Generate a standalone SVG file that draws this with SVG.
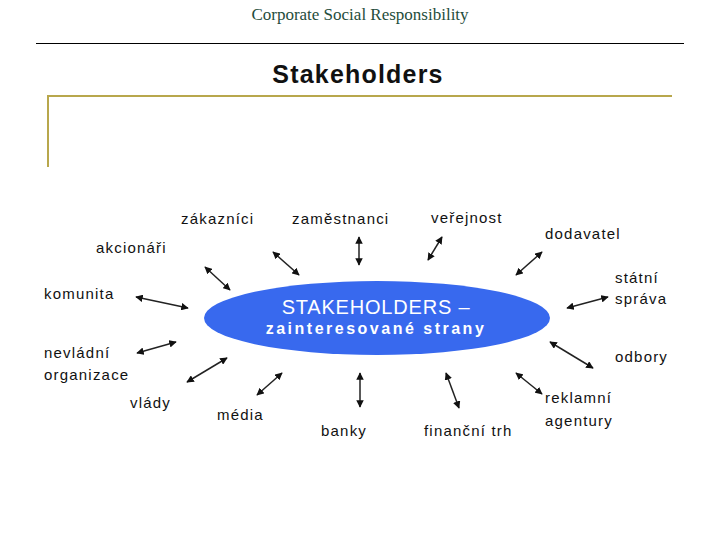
<svg xmlns="http://www.w3.org/2000/svg" width="720" height="540" viewBox="0 0 720 540">
<style>
.lbl{font-family:"Liberation Sans",Arial,sans-serif;font-size:15px;fill:#111;letter-spacing:1.2px}
.con line{stroke:#222;stroke-width:1.5;marker-start:url(#ah);marker-end:url(#ah)}
</style>
<defs>
<marker id="ah" viewBox="0 0 10 10" refX="9" refY="5" markerWidth="5" markerHeight="5" orient="auto-start-reverse" markerUnits="strokeWidth">
<path d="M0,0 L10,5 L0,10 z" fill="#111"/>
</marker>
</defs>
<rect width="720" height="540" fill="#fff"/>
<text x="360" y="20" text-anchor="middle" font-family="Liberation Serif,serif" font-size="17" fill="#1f4d3c">Corporate Social Responsibility</text>
<line x1="36" y1="43.5" x2="684" y2="43.5" stroke="#000" stroke-width="1"/>
<text x="358" y="83" text-anchor="middle" font-family="Liberation Sans,Arial,sans-serif" font-size="25" font-weight="bold" fill="#111" letter-spacing="1.2">Stakeholders</text>
<path d="M48,167 V96 H672" fill="none" stroke="#b8a74c" stroke-width="2"/>

<g id="center">
<ellipse cx="377" cy="318" rx="173" ry="37" fill="#3869ee"/>
<text x="376" y="314" text-anchor="middle" font-family="Liberation Sans,Arial,sans-serif" font-size="20" fill="#fff" letter-spacing="0.8">STAKEHOLDERS –</text>
<text x="376" y="334" text-anchor="middle" font-family="Liberation Sans,Arial,sans-serif" font-size="16" font-weight="bold" fill="#fff" letter-spacing="2.5">zainteresované strany</text>
</g>

<g class="con" id="connectors">
<line x1="205" y1="267" x2="230" y2="290"/>
<line x1="273" y1="252" x2="299" y2="275"/>
<line x1="359" y1="237" x2="359" y2="265"/>
<line x1="442" y1="237" x2="428" y2="260"/>
<line x1="542" y1="252" x2="516" y2="275"/>
<line x1="136" y1="297" x2="188" y2="308"/>
<line x1="608" y1="297" x2="567" y2="308"/>
<line x1="137" y1="353" x2="176" y2="342"/>
<line x1="550" y1="342" x2="593" y2="368"/>
<line x1="187" y1="382" x2="227" y2="358"/>
<line x1="257" y1="395" x2="282" y2="373"/>
<line x1="360" y1="373" x2="360" y2="407"/>
<line x1="446" y1="373" x2="459" y2="408"/>
<line x1="516" y1="373" x2="542" y2="394"/>
</g>

<g id="n-zakaznici"><text class="lbl" x="181" y="224">zákazníci</text></g>
<g id="n-zamestnanci"><text class="lbl" x="292" y="224">zaměstnanci</text></g>
<g id="n-verejnost"><text class="lbl" x="431" y="223">veřejnost</text></g>
<g id="n-dodavatel"><text class="lbl" x="545" y="239">dodavatel</text></g>
<g id="n-akcionari"><text class="lbl" x="96" y="253">akcionáři</text></g>
<g id="n-komunita"><text class="lbl" x="44" y="299">komunita</text></g>
<g id="n-statni"><text class="lbl" x="615" y="283">státní</text><text class="lbl" x="615" y="304">správa</text></g>
<g id="n-nevladni"><text class="lbl" x="44" y="358">nevládní</text><text class="lbl" x="44" y="380">organizace</text></g>
<g id="n-odbory"><text class="lbl" x="615" y="362">odbory</text></g>
<g id="n-vlady"><text class="lbl" x="130" y="408">vlády</text></g>
<g id="n-media"><text class="lbl" x="217" y="420">média</text></g>
<g id="n-banky"><text class="lbl" x="321" y="436">banky</text></g>
<g id="n-financni"><text class="lbl" x="424" y="436">finanční trh</text></g>
<g id="n-reklamni"><text class="lbl" x="545" y="403">reklamní</text><text class="lbl" x="545" y="426">agentury</text></g>
</svg>
